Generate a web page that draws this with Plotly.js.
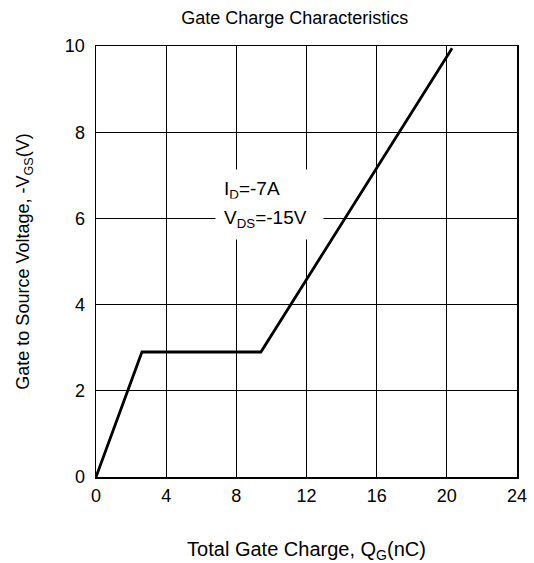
<!DOCTYPE html>
<html>
<head>
<meta charset="utf-8">
<script src="https://cdn.plot.ly/plotly-3.0.1.min.js"></script>
<style>html,body{margin:0;padding:0;background:#fff;}#chart{width:534px;height:563px;}</style>
</head>
<body>
<div id="chart"></div>
<script>
var qg = [0, 2.62, 9.4, 20.3];
var vgs = [0, 2.9, 2.9, 9.95];
var xTicks = [0, 4, 8, 12, 16, 20, 24];
var yTicks = [0, 2, 4, 6, 8, 10];
var labelText = ["I<sub>D</sub>=-7A", "V<sub>DS</sub>=-15V"];
var labelX = [6.78, 6.78];
var labelY = [6.66, 5.99];

var font = "Liberation Sans, Arial, sans-serif";
var data = [{
  x: qg, y: vgs, type: "scatter", mode: "lines",
  line: {color: "#000", width: 2.8}, hoverinfo: "none"
}];
var annotations = labelText.map(function(t, i) {
  return {x: labelX[i], y: labelY[i], xref: "x", yref: "y", text: t, showarrow: false,
    xanchor: "left", yanchor: "middle", align: "left", width: 91,
    font: {family: font, size: 19, color: "#000"}, bgcolor: "#fff", borderpad: 8};
});
var layout = {
  width: 534, height: 563,
  margin: {l: 96, r: 17, t: 46, b: 86},
  paper_bgcolor: "#fff", plot_bgcolor: "#fff",
  showlegend: false,
  font: {family: font, size: 18, color: "#000"},
  title: {text: "Gate Charge Characteristics", font: {family: font, size: 18}, x: 0.552, xanchor: "center", y: 0.968, yanchor: "middle"},
  xaxis: {
    range: [0, 24], tickvals: xTicks, ticktext: xTicks.map(String),
    showgrid: true, gridcolor: "#000", gridwidth: 1,
    zeroline: false, showline: true, linecolor: "#000", linewidth: 1.5, mirror: true,
    ticks: "", tickfont: {family: font, size: 18}, ticklabelstandoff: 2,
    title: {text: "Total Gate Charge, Q<sub>G</sub>(nC)", font: {family: font, size: 20}, standoff: 40}
  },
  yaxis: {
    range: [0, 10], tickvals: yTicks, ticktext: yTicks.map(String),
    showgrid: true, gridcolor: "#000", gridwidth: 1,
    zeroline: false, showline: true, linecolor: "#000", linewidth: 1.5, mirror: true,
    ticks: "", tickfont: {family: font, size: 18}, ticklabelstandoff: 6,
    title: {text: "Gate to Source Voltage, -V<sub>GS</sub>(V)", font: {family: font, size: 18}, standoff: 30}
  },
  annotations: annotations
};
Plotly.newPlot("chart", data, layout, {displayModeBar: false, staticPlot: true});
</script>
</body>
</html>
